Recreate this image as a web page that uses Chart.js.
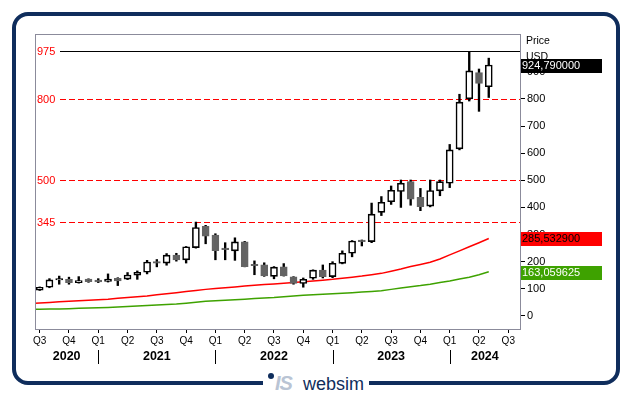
<!DOCTYPE html>
<html>
<head>
<meta charset="utf-8">
<script src="https://cdn.jsdelivr.net/npm/chart.js@4.4.1/dist/chart.umd.min.js"></script>
<style>
  html, body { margin: 0; padding: 0; background: #fff; }
  #wrap { position: relative; width: 631px; height: 397px; overflow: hidden; font-family: "Liberation Sans", Arial, sans-serif; }
  #frame { position: absolute; left: 12px; top: 12px; width: 600px; height: 365px; border: 4px solid #0f2d5c; border-radius: 16px; }
  #logo { position: absolute; left: 263px; top: 371px; width: 106px; height: 24px; background: #fff; }
  #logo .dot { position: absolute; left: 5px; top: 2px; width: 6px; height: 6px; border-radius: 50%; background: #0f2d5c; }
  #logo .mark { position: absolute; left: 12px; top: 2px; font: italic bold 20px/20px "Liberation Sans", Arial, sans-serif; color: #b9c4d4; letter-spacing: -1px; }
  #logo .name { position: absolute; left: 40px; top: 3px; font: 18px/20px "Liberation Sans", Arial, sans-serif; color: #0f2d5c; }
  canvas { position: absolute; left: 0; top: 0; }
</style>
</head>
<body>
<div id="wrap">
  <div id="frame"></div>
  <canvas id="chart" width="631" height="397"></canvas>
  <div id="logo"><span class="dot"></span><span class="mark">IS</span><span class="name">websim</span></div>
</div>
<script>
// ── données mensuelles (juil. 2020 → mai 2024) ──
const months = [
  'Jul 2020','Aug 2020','Sep 2020','Oct 2020','Nov 2020','Dec 2020',
  'Jan 2021','Feb 2021','Mar 2021','Apr 2021','May 2021','Jun 2021','Jul 2021','Aug 2021','Sep 2021','Oct 2021','Nov 2021','Dec 2021',
  'Jan 2022','Feb 2022','Mar 2022','Apr 2022','May 2022','Jun 2022','Jul 2022','Aug 2022','Sep 2022','Oct 2022','Nov 2022','Dec 2022',
  'Jan 2023','Feb 2023','Mar 2023','Apr 2023','May 2023','Jun 2023','Jul 2023','Aug 2023','Sep 2023','Oct 2023','Nov 2023','Dec 2023',
  'Jan 2024','Feb 2024','Mar 2024','Apr 2024','May 2024'
];
const openP  = [95,106,132.5,135,123,136,132,127,139,136,150,161,199,195,224,207,252,330,298,250,240,273,186,188,146,181,144,120,139,169,145,194,231,276,274,382,421,459,495,437,405,461,489,616,800,897,845];
const highP  = [107,137.5,147,143,145,137,137.5,155,141,160,166,205,208,230,231,256,346,334,303,270,288,275,203,196,182,193,145,140,170,188,200,240,278,280,416,440,479,501,501,470,501,501,632,817,974,910,950];
const lowP   = [94,104,117,117,121,124,123,125,112,134,135,155,181,187,202,195,250,266,207,207,205,181,152,146,137,147,117,106,135,140,141,192,218,258,270,370,411,400,408,388,402,443,473,612,792,754,805];
const closeP = [106,133,133.5,123,130,126,125.5,136,129,151,161,199,195,224,207,255,326,294,241,244,273,182,185,148,180,148,120,135,169,145,194,231,276,274,375,419,463,489,430,403,462,495,612,788,903,857,924.79];

// moyennes mobiles, la première valeur est juin 2020 (hors cadre à gauche)
const maRed   = [46,48,50,52,54,56,58,60,62,65,68,71,74,78,82,86,90,94,98,101,104,107,110,113,116,118,120.5,123,126,129,132,135,139,143,147,152,157,165,173,182,190,198,210,225,240,255,270,285.5329];
const maGreen = [24,25,25.5,26,27,28,29,30,31.5,33,35,37,39,40.5,42,44,47,50.5,54,56,58,60,62,64,66,68,71,74,76,78,80,82,84,86,88,90.5,93,98,103,108,112,117,123,129,136,143,152,163.059625];

const resistance = 975;
const supports = [800, 500, 345];

const priceTicks = [0,100,200,300,400,500,600,700,800,900];
const quarterTicks = [0,3,6,9,12,15,18,21,24,27,30,33,36,39,42,45,48];
const quarterLabels = ['Q3','Q4','Q1','Q2','Q3','Q4','Q1','Q2','Q3','Q4','Q1','Q2','Q3','Q4','Q1','Q2','Q3'];
const years = ['2020','2021','2022','2023','2024'];
const yearStarts = [6, 18, 30, 42];

const FONT = '"Liberation Sans", Arial, sans-serif';
const fmt = v => v.toFixed(6).replace('.', ',');

const decor = {
  id: 'decor',
  beforeDatasetsDraw(chart) {
    const { ctx, chartArea: a, scales: { y } } = chart;
    ctx.save();
    ctx.font = '11px ' + FONT;
    ctx.textBaseline = 'middle';
    ctx.textAlign = 'left';
    const lvl = (v, dashed) => {
      const py = Math.round(y.getPixelForValue(v)) + 0.5;
      ctx.strokeStyle = dashed ? '#ff0000' : '#000';
      ctx.lineWidth = 1;
      ctx.setLineDash(dashed ? [6, 3] : []);
      ctx.beginPath(); ctx.moveTo(60, py); ctx.lineTo(a.right, py); ctx.stroke();
      ctx.fillStyle = '#ff0000';
      ctx.fillText(String(v), a.left + 2, py);
    };
    lvl(resistance, false);
    supports.forEach(v => lvl(v, true));
    ctx.restore();
  },
  afterDraw(chart) {
    const { ctx, chartArea: a, scales: { x, y } } = chart;
    ctx.save();
    // cadre du graphique
    ctx.strokeStyle = '#8b8b9b';
    ctx.lineWidth = 1;
    ctx.setLineDash([]);
    ctx.strokeRect(Math.round(a.left) + 0.5, Math.round(a.top) + 0.5, Math.round(a.right - a.left), Math.round(a.bottom - a.top));

    // années
    ctx.strokeStyle = '#000';
    yearStarts.forEach(i => {
      const px = Math.round(x.getPixelForValue(i)) + 0.5;
      ctx.beginPath(); ctx.moveTo(px, a.bottom + 21); ctx.lineTo(px, a.bottom + 35); ctx.stroke();
    });
    const bounds = [a.left, ...yearStarts.map(i => x.getPixelForValue(i)), a.right];
    ctx.fillStyle = '#000';
    ctx.font = 'bold 12.5px ' + FONT;
    ctx.textAlign = 'center';
    ctx.textBaseline = 'middle';
    years.forEach((yr, k) => ctx.fillText(yr, (bounds[k] + bounds[k + 1]) / 2, a.bottom + 28));

    // en-tête de l'axe
    ctx.textAlign = 'left';
    ctx.font = '10.5px ' + FONT;
    ctx.fillText('Price', a.right + 6, 41);
    ctx.fillText('USD', a.right + 6, 57);

    // étiquettes des dernières valeurs
    const tag = (v, bg, fg) => {
      const py = Math.round(y.getPixelForValue(v));
      ctx.fillStyle = bg;
      ctx.fillRect(a.right + 1, py - 6, 81, 14);
      ctx.fillStyle = fg;
      ctx.font = '11px ' + FONT;
      ctx.fillText(fmt(v), a.right + 2, py + 1);
    };
    const n = closeP.length - 1;
    tag(closeP[n], '#000', '#fff');
    tag(maRed[maRed.length - 1], '#ff0000', '#000');
    tag(maGreen[maGreen.length - 1], '#3ea200', '#fff');
    ctx.restore();
  }
};

const up = i => closeP[i] >= openP[i];

new Chart(document.getElementById('chart'), {
  type: 'bar',
  data: {
    datasets: [
      {
        type: 'line', label: 'MA rouge',
        data: maRed.map((v, k) => ({ x: k - 1, y: v })),
        borderColor: '#ff0000', borderWidth: 1.5, pointRadius: 0, tension: 0, order: 3
      },
      {
        type: 'line', label: 'MA verte',
        data: maGreen.map((v, k) => ({ x: k - 1, y: v })),
        borderColor: '#3ea200', borderWidth: 1.5, pointRadius: 0, tension: 0, order: 4
      },
      {
        label: 'Mèches',
        data: months.map((m, i) => ({ x: i, y: [lowP[i], highP[i]] })),
        backgroundColor: '#000', barThickness: 1.7, grouped: false, order: 2
      },
      {
        label: 'Corps',
        data: months.map((m, i) => ({ x: i, y: [Math.min(openP[i], closeP[i]), Math.max(openP[i], closeP[i])] })),
        backgroundColor: months.map((m, i) => up(i) ? '#fff' : '#636363'),
        borderColor: months.map((m, i) => up(i) ? '#000' : '#636363'),
        borderWidth: 1.6, borderSkipped: false, barThickness: 7, minBarLength: 1.5,
        grouped: false, order: 1
      }
    ]
  },
  options: {
    responsive: false,
    animation: false,
    devicePixelRatio: 1,
    layout: { padding: { left: 35, top: 34, right: 0, bottom: 0 } },
    plugins: { legend: { display: false }, tooltip: { enabled: false } },
    scales: {
      x: {
        type: 'linear', min: -0.48, max: 49.2, offset: false,
        grid: { drawOnChartArea: false, offset: false, tickLength: 4, color: '#000' },
        border: { display: false },
        afterBuildTicks: s => { s.ticks = quarterTicks.map(v => ({ value: v })); },
        afterFit: s => { s.height = 68; },
        ticks: {
          autoSkip: false, maxRotation: 0, padding: 2, color: '#000',
          font: { size: 10, family: FONT },
          callback: v => quarterLabels[quarterTicks.indexOf(v)]
        }
      },
      y: {
        position: 'right', min: -48, max: 1039,
        grid: { drawOnChartArea: false, tickLength: 5, color: '#000' },
        border: { display: false },
        afterBuildTicks: s => { s.ticks = priceTicks.map(v => ({ value: v })); },
        afterFit: s => { s.width = 111; },
        ticks: { color: '#000', padding: 2, font: { size: 11, family: FONT } }
      }
    }
  },
  plugins: [decor]
});
</script>
</body>
</html>
